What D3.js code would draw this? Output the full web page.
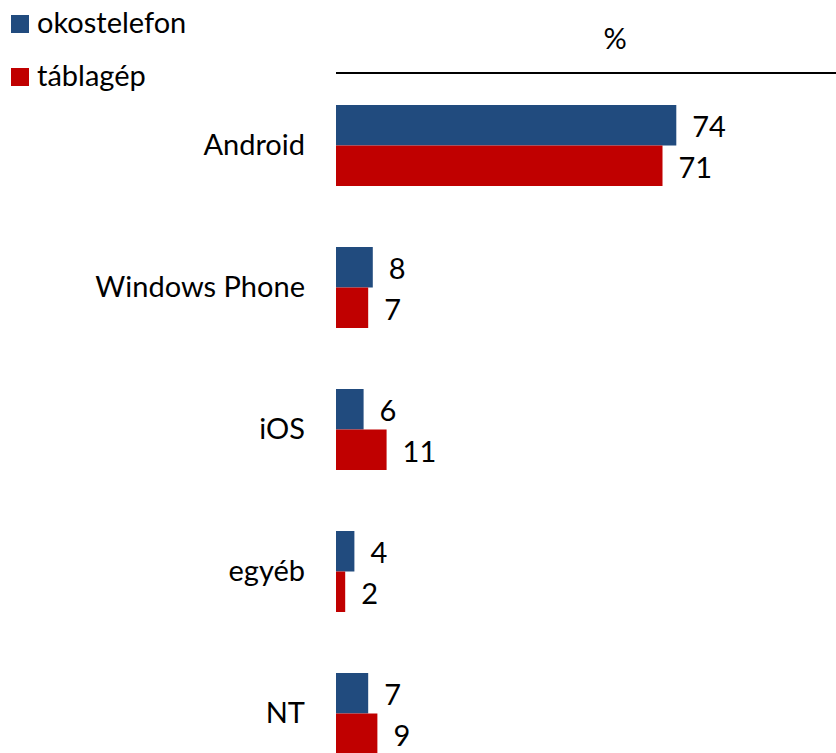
<!DOCTYPE html>
<html><head><meta charset="utf-8">
<script src="https://cdn.jsdelivr.net/npm/d3@7"></script>
<style>body{margin:0;background:#fff}svg{display:block}text{font-family:Lato,"Open Sans",sans-serif;fill:#000}</style>
</head><body><svg id="c" width="836" height="753"></svg>
<script>
const categories = ["Android", "Windows Phone", "iOS", "egyéb", "NT"];
const series = ["okostelefon", "táblagép"];
const okostelefon = [74, 8, 6, 4, 7];
const tablagep = [71, 7, 11, 2, 9];
const colors = ["#214b7e", "#c00000"];
const unitLabel = "%";

const svg = d3.select("#c");
const fs = 29;
const x0 = 336;
const x = d3.scaleLinear().domain([0, 74]).range([x0, 676.3]);
const y = d3.scaleBand().domain(categories).range([105, 105 + 4*142 + 81]).paddingInner(61/142).paddingOuter(0);
const yi = d3.scaleBand().domain(series).range([0, y.bandwidth()]);
const vals = [okostelefon, tablagep];

// top line
svg.append("line").attr("x1", x0).attr("x2", 836).attr("y1", 73).attr("y2", 73).attr("stroke", "#000").attr("stroke-width", 2);
svg.append("text").attr("x", 615).attr("y", 49).attr("text-anchor", "middle").attr("font-size", fs).text(unitLabel);

// category labels
const yAxis = d3.axisLeft(y).tickSize(0).tickPadding(0);
const ga = svg.append("g").attr("transform", `translate(305,0)`).call(yAxis);
ga.select(".domain").remove();
ga.selectAll("text").attr("font-size", fs).attr("font-family", "Lato, 'Open Sans', sans-serif").attr("fill", "#000");

const g = svg.append("g");
categories.forEach((c, i) => {
  series.forEach((s, j) => {
    const v = vals[j][i];
    const yy = y(c) + yi(s);
    g.append("rect").attr("x", x(0)).attr("y", yy).attr("width", x(v) - x(0)).attr("height", yi.bandwidth()).attr("fill", colors[j]);
    g.append("text").attr("x", x(v) + 16).attr("y", yy + yi.bandwidth()/2 + 2).attr("dy", "0.35em").attr("font-size", fs).text(v);
  });
});

// legend
const leg = svg.append("g");
series.forEach((s, j) => {
  const ly = 15 + j * 53;
  leg.append("rect").attr("x", 11).attr("y", ly).attr("width", 18).attr("height", 18).attr("fill", colors[j]);
  leg.append("text").attr("x", 37).attr("y", ly + 18).attr("font-size", fs).text(s);
});
</script></body></html>
